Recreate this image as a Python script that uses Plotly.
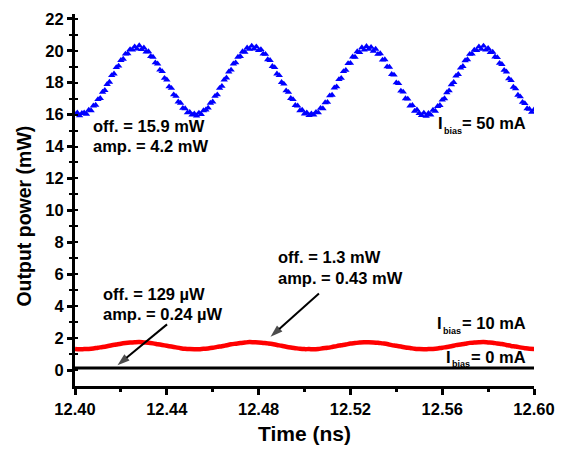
import plotly.graph_objects as go

# ---- data ----
blue_t0, blue_dt = 12.400, 0.001
blue_vals = [
    16.02, 16.11, 15.93, 16.08, 16.12, 16.03, 16.28, 16.25, 16.55, 16.60, 16.95, 17.02, 17.41, 17.52, 17.90, 18.04, 18.45, 18.55, 18.95, 19.05, 19.40, 19.48, 19.80, 19.82, 20.08, 20.05, 20.25, 20.12, 20.32, 20.08, 20.18, 19.93, 19.95, 19.65, 19.60, 19.25, 19.18, 18.80, 18.70, 18.28, 18.18, 17.75, 17.65, 17.25, 17.15, 16.80, 16.72, 16.40, 16.38, 16.12,
    16.15, 15.98, 16.05, 15.92, 16.10, 16.02, 16.25, 16.30, 16.42, 16.72, 16.80, 17.15, 17.25, 17.65, 17.78, 18.18, 18.30, 18.68, 18.80, 19.18, 19.25, 19.60, 19.65, 19.95, 19.92, 20.18, 20.10, 20.30, 20.12, 20.25, 20.02, 20.08, 19.80, 19.78, 19.45, 19.40, 19.02, 18.95, 18.55, 18.45, 18.02, 17.92, 17.50, 17.40, 17.02, 16.95, 16.58, 16.55, 16.25, 16.28,
    16.05, 16.12, 15.95, 16.06, 15.98, 16.15, 16.12, 16.40, 16.38, 16.75, 16.78, 17.18, 17.22, 17.68, 17.75, 18.20, 18.28, 18.70, 18.78, 19.20, 19.22, 19.62, 19.60, 19.95, 19.90, 20.20, 20.05, 20.28, 20.10, 20.22, 19.98, 20.10, 19.78, 19.82, 19.42, 19.45, 19.00, 18.98, 18.52, 18.48, 18.00, 17.95, 17.48, 17.42, 17.00, 16.98, 16.55, 16.58, 16.22, 16.30,
    16.08, 15.95, 16.10, 15.90, 16.08, 15.98, 16.28, 16.22, 16.52, 16.58, 16.92, 17.00, 17.38, 17.50, 17.88, 18.02, 18.42, 18.52, 18.92, 19.02, 19.38, 19.45, 19.78, 19.80, 20.05, 20.02, 20.25, 20.10, 20.30, 20.05, 20.15, 19.90, 19.92, 19.62, 19.58, 19.22, 19.15, 18.78, 18.68, 18.25, 18.15, 17.72, 17.62, 17.22, 17.12, 16.78, 16.70, 16.38, 16.35, 16.15, 16.30,
]
red_t0, red_dt = 12.400, 0.002
red_vals = [
    1.32, 1.30, 1.31, 1.32, 1.35, 1.40, 1.44, 1.49, 1.55, 1.60, 1.65, 1.69, 1.72, 1.74, 1.75, 1.73, 1.71, 1.67, 1.62, 1.57, 1.52, 1.47, 1.42, 1.37, 1.33,
    1.31, 1.30, 1.30, 1.33, 1.35, 1.39, 1.45, 1.49, 1.55, 1.61, 1.65, 1.69, 1.72, 1.75, 1.74, 1.73, 1.70, 1.67, 1.63, 1.57, 1.52, 1.46, 1.41, 1.37, 1.33,
    1.31, 1.31, 1.30, 1.32, 1.36, 1.39, 1.44, 1.50, 1.55, 1.60, 1.66, 1.69, 1.72, 1.74, 1.74, 1.73, 1.71, 1.67, 1.63, 1.56, 1.52, 1.47, 1.41, 1.38, 1.33,
    1.31, 1.30, 1.31, 1.32, 1.35, 1.40, 1.44, 1.49, 1.56, 1.60, 1.65, 1.70, 1.72, 1.74, 1.75, 1.73, 1.71, 1.66, 1.63, 1.57, 1.51, 1.47, 1.42, 1.37, 1.33,
    1.32,
]
black_t = [12.400, 12.450, 12.500, 12.550, 12.600]
black_vals = [0.129, 0.129, 0.129, 0.129, 0.129]

# arrows: [tail, head] in data units
arrow1_t = [12.4401, 12.4185]
arrow1_v = [2.86, 0.30]
arrow2_t = [12.5063, 12.4852]
arrow2_v = [4.79, 2.08]

# bias labels: (I left, sub left, main y, sub y, value text)
bias_labels = [
    (12.5577, 12.5603, 15.45, 14.95, "= 50 mA"),
    (12.5573, 12.5599, 2.94, 2.46, "= 10 mA"),
    (12.5612, 12.5638, 0.81, 0.35, "= 0 mA"),
]

blue_t = [round(blue_t0 + i * blue_dt, 4) for i in range(len(blue_vals))]
red_t = [round(red_t0 + i * red_dt, 4) for i in range(len(red_vals))]

x_ticks = [12.40, 12.44, 12.48, 12.52, 12.56, 12.60]
x_ticklabels = ["12.40", "12.44", "12.48", "12.52", "12.56", "12.60"]
y_ticks = list(range(0, 23, 2))

FONT = "Liberation Sans, Arial, sans-serif"
FS = 16.5
Y_RANGE = [-1.0, 22.3]

fig = go.Figure()
fig.add_trace(go.Scatter(x=black_t, y=black_vals, mode="lines",
                         line=dict(color="black", width=3), showlegend=False))
fig.add_trace(go.Scatter(x=red_t, y=red_vals, mode="lines",
                         line=dict(color="#ff0000", width=4.5, shape="spline"), showlegend=False))
fig.add_trace(go.Scatter(x=blue_t, y=blue_vals, mode="markers",
                         marker=dict(symbol="triangle-up", size=6.5, color="#0000ff", line=dict(width=0)),
                         showlegend=False))
for at, av in ((arrow1_t, arrow1_v), (arrow2_t, arrow2_v)):
    fig.add_trace(go.Scatter(x=at, y=av, mode="lines+markers",
                             line=dict(color="black", width=2),
                             marker=dict(symbol=["circle", "arrow"], size=[0, 13], color="black",
                                         angleref="previous", line=dict(width=0)),
                             showlegend=False, hoverinfo="skip"))
# invisible trace on the secondary y axis so its inner ticks are drawn
fig.add_trace(go.Scatter(x=[12.40], y=[0], yaxis="y2", mode="markers",
                         marker=dict(size=0, opacity=0), showlegend=False, hoverinfo="skip"))

def txt(x, y, s, anchor="left", size=FS):
    fig.add_annotation(x=x, y=y, xref="x", yref="y", text=s, showarrow=False,
                       xanchor=anchor, yanchor="middle", borderpad=0,
                       font=dict(family=FONT, size=size, color="black"))

txt(12.4074, 15.3, "<b>off. = 15.9 mW</b>")
txt(12.4074, 14.05, "<b>amp. = 4.2 mW</b>")
txt(12.4118, 4.78, "<b>off. = 129 µW</b>")
txt(12.4118, 3.54, "<b>amp. = 0.24 µW</b>")
txt(12.4880, 7.08, "<b>off. = 1.3 mW</b>")
txt(12.4880, 5.75, "<b>amp. = 0.43 mW</b>")
for i_left, sub_left, y_main, y_sub, val in bias_labels:
    txt(i_left, y_main, "<b>I</b>")
    txt(sub_left, y_sub, "<b>bias</b>", size=9)
    txt(12.5970, y_main, f"<b>{val}</b>", anchor="right")

# y-axis title placed as a rotated annotation
fig.add_annotation(x=-0.112, y=0.457, xref="paper", yref="paper", text="<b>Output power (mW)</b>",
                   textangle=-90, showarrow=False, xanchor="center", yanchor="middle",
                   font=dict(family=FONT, size=19.5, color="black"))

fig.update_layout(
    width=584, height=454,
    margin=dict(l=67, r=58, t=2, b=76),
    paper_bgcolor="white", plot_bgcolor="white",
    font=dict(family=FONT, size=FS, color="black"),
    showlegend=False,
    yaxis2=dict(overlaying="y", side="left", range=Y_RANGE, tickvals=list(range(0, 23)),
                ticks="inside", ticklen=3, tickwidth=2, tickcolor="black",
                showticklabels=False, showgrid=False, zeroline=False, showline=False),
)
fig.update_xaxes(
    range=[12.40, 12.60], tickvals=x_ticks, ticktext=[f"<b>{t}</b>" for t in x_ticklabels],
    showgrid=False, zeroline=False, showline=True, linecolor="black", linewidth=3,
    ticks="outside", ticklen=6, tickwidth=3, tickcolor="black",
    minor=dict(tickvals=[12.42, 12.46, 12.50, 12.54, 12.58], ticks="outside", ticklen=3, tickwidth=3, tickcolor="black"),
    tickfont=dict(family=FONT, size=FS),
    title=dict(text="<b>Time (ns)</b>", font=dict(family=FONT, size=21), standoff=10),
)
fig.layout.yaxis.update(
    range=Y_RANGE, tickvals=y_ticks, ticktext=[f"<b>{t}</b>" for t in y_ticks],
    showgrid=False, zeroline=False, showline=True, linecolor="black", linewidth=3,
    ticks="outside", ticklen=5, tickwidth=3, tickcolor="black", ticklabeloverflow="allow",
    minor=dict(tickvals=list(range(1, 23, 2)), ticks="outside", ticklen=3, tickwidth=2, tickcolor="black"),
    tickfont=dict(family=FONT, size=FS),
)

fig.write_html("out.html")
